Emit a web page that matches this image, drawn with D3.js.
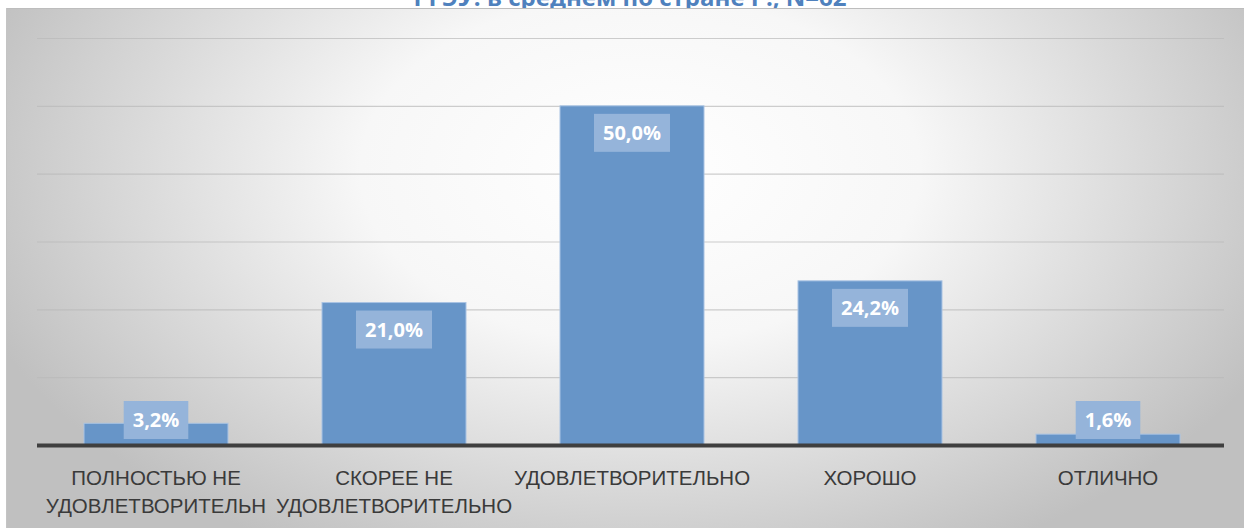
<!DOCTYPE html>
<html>
<head>
<meta charset="utf-8">
<script src="https://cdn.jsdelivr.net/npm/d3@7"></script>
<style>
  html, body { margin: 0; padding: 0; background: #fff; }
  svg { display: block; }
</style>
</head>
<body>
<div class="graph-container"></div>
<script>
const categories = [
    ['ПОЛНОСТЬЮ НЕ', 'УДОВЛЕТВОРИТЕЛЬН'],
    ['СКОРЕЕ НЕ', 'УДОВЛЕТВОРИТЕЛЬНО'],
    ['УДОВЛЕТВОРИТЕЛЬНО'],
    ['ХОРОШО'],
    ['ОТЛИЧНО']
];
const values = [3.2, 21.0, 50.0, 24.2, 1.6];
const yTicks = [0, 10, 20, 30, 40, 50, 60];
const title = 'РГЭУ: в среднем по стране Р., N=62';

const width = 1244;
const height = 528;
const plotLeft = 37;
const plotRight = 1227;
const plotTop = 38;
const plotBottom = 445;

const svg = d3.select('div.graph-container')
    .append('svg')
    .attr('width', width)
    .attr('height', height);

const defs = svg.append('defs');
const grad = defs.append('radialGradient')
    .attr('id', 'bkg')
    .attr('gradientUnits', 'userSpaceOnUse')
    .attr('cx', 640)
    .attr('cy', 170)
    .attr('r', 700)
    .attr('gradientTransform', 'translate(640,170) scale(1,0.62) translate(-640,-170)');
grad.append('stop').attr('offset', '0%').attr('stop-color', '#ffffff');
grad.append('stop').attr('offset', '40%').attr('stop-color', '#f7f7f7');
grad.append('stop').attr('offset', '100%').attr('stop-color', '#c0c0c0');

// title, cut off at the top of the picture
svg.append('text')
    .attr('x', 630)
    .attr('y', 6)
    .attr('text-anchor', 'middle')
    .attr('font-family', 'Open Sans, Noto Sans, sans-serif')
    .attr('font-weight', 'bold')
    .attr('font-size', 24)
    .attr('fill', '#4f81bd')
    .text(title);

// chart panel
svg.append('rect')
    .attr('x', 6)
    .attr('y', 8)
    .attr('width', width - 6)
    .attr('height', height - 8)
    .attr('fill', 'url(#bkg)');
svg.append('line')
    .attr('x1', 6).attr('x2', width)
    .attr('y1', 8.5).attr('y2', 8.5)
    .attr('stroke', '#bdbdbd')
    .attr('stroke-width', 1);
svg.append('line')
    .attr('x1', 6.5).attr('x2', 6.5)
    .attr('y1', 8).attr('y2', height)
    .attr('stroke', '#c4c4c4')
    .attr('stroke-width', 1);

const x = d3.scaleBand()
    .domain(d3.range(values.length))
    .range([plotLeft, plotRight])
    .paddingInner(0.395)
    .paddingOuter(0.1975);

const y = d3.scaleLinear()
    .domain([0, 60])
    .range([plotBottom, plotTop]);

// gridlines
const grid = svg.append('g')
    .attr('transform', `translate(${plotLeft},0)`)
    .call(d3.axisLeft(y).tickValues(yTicks.slice(1)).tickSize(-(plotRight - plotLeft - 3)).tickFormat(''));
grid.select('.domain').remove();
grid.selectAll('line')
    .attr('stroke', '#b9b9b9')
    .attr('stroke-opacity', 0.7)
    .attr('stroke-width', 1.2);

// bars
svg.append('g')
    .selectAll('rect')
    .data(values)
    .enter()
    .append('rect')
    .attr('x', (d, i) => x(i))
    .attr('y', d => y(d))
    .attr('width', x.bandwidth())
    .attr('height', d => y(0) - y(d))
    .attr('fill', '#6795c8')
    .attr('stroke', '#a9c3e3')
    .attr('stroke-width', 1);

// baseline
svg.append('line')
    .attr('x1', plotLeft).attr('x2', plotRight - 3)
    .attr('y1', y(0) + 0.5).attr('y2', y(0) + 0.5)
    .attr('stroke', '#3f3f3f')
    .attr('stroke-width', 4);

// value labels
const fmt = d => d.toFixed(1).replace('.', ',') + '%';
const labelY = d => Math.min(y(d) + 27, plotBottom - 25);
const labels = svg.append('g')
    .selectAll('g')
    .data(values)
    .enter()
    .append('g')
    .attr('transform', (d, i) => `translate(${x(i) + x.bandwidth() / 2},${labelY(d)})`);
labels.append('text')
    .attr('text-anchor', 'middle')
    .attr('dy', '0.36em')
    .attr('font-family', 'Open Sans, Noto Sans, sans-serif')
    .attr('font-weight', 'bold')
    .attr('font-size', 20)
    .attr('fill', '#fff')
    .text(fmt);
labels.each(function () {
    const g = d3.select(this);
    const bb = g.select('text').node().getBBox();
    g.insert('rect', 'text')
        .attr('x', bb.x - 9)
        .attr('y', -19)
        .attr('width', bb.width + 18)
        .attr('height', 38)
        .attr('fill', '#95b4da');
});

// category labels
const cats = svg.append('g')
    .selectAll('text')
    .data(categories)
    .enter()
    .append('text')
    .attr('x', (d, i) => x(i) + x.bandwidth() / 2)
    .attr('y', 485)
    .attr('text-anchor', 'middle')
    .attr('font-family', 'Liberation Sans, Arial, sans-serif')
    .attr('font-size', 20.5)
    .attr('fill', '#3a3a3a');
cats.selectAll('tspan')
    .data(d => d)
    .enter()
    .append('tspan')
    .attr('x', function () { return d3.select(this.parentNode).attr('x'); })
    .attr('dy', (d, i) => i === 0 ? 0 : 28)
    .text(d => d);
</script>
</body>
</html>
